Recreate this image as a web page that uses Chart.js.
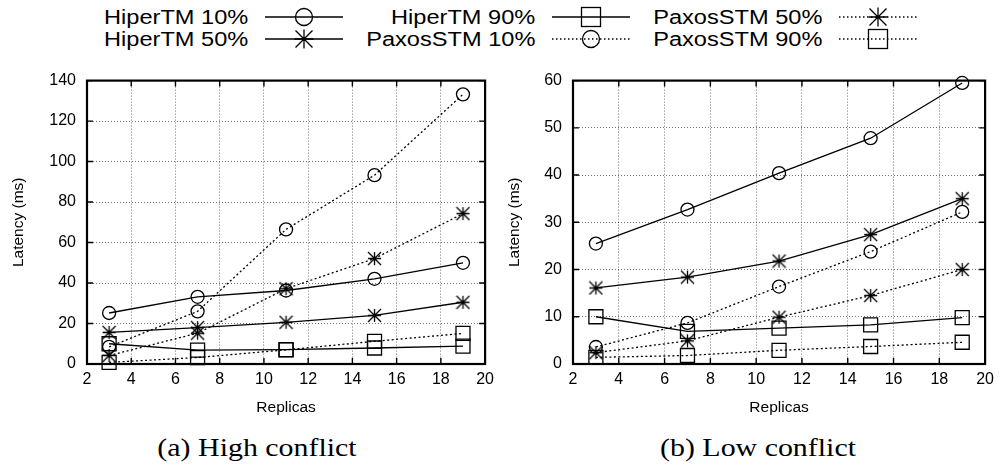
<!DOCTYPE html>
<html>
<head>
<meta charset="utf-8">
<script src="https://cdn.jsdelivr.net/npm/chart.js@4"></script>
<style>
  body { margin:0; background:#fff; width:1000px; height:468px; position:relative; overflow:hidden; font-family:'Liberation Sans', Arial, sans-serif; color:#000; }
  canvas { position:absolute; top:60px; }
  #cv-high { left:0; }
  #cv-low  { left:500px; }
  .lg-lbl { position:absolute; font-size:20px; line-height:22px; white-space:nowrap; transform:scaleX(1.18); transform-origin:right center; }
  .lg-smp { position:absolute; }
  .cap { position:absolute; top:433px; font-family:'Liberation Serif', serif; font-size:26px; line-height:30px; white-space:nowrap; transform:translateX(-50%) scaleX(1.15); }
</style>
</head>
<body>
<div id="legend"></div>
<canvas id="cv-high" width="500" height="370"></canvas>
<canvas id="cv-low" width="500" height="370"></canvas>
<div class="cap" style="left:257px">(a) High conflict</div>
<div class="cap" style="left:758px">(b) Low conflict</div>
<script>
// data
const replicas    = [3, 7, 11, 15, 19];
const seriesNames = ['HiperTM 10%', 'HiperTM 50%', 'HiperTM 90%', 'PaxosSTM 10%', 'PaxosSTM 50%', 'PaxosSTM 90%'];
const xTicks      = [2, 4, 6, 8, 10, 12, 14, 16, 18, 20];

// (a) high conflict
const highHiper10  = [25.2, 33.2, 36.3, 42.1, 50.0];
const highHiper50  = [15.6, 18.0, 20.6, 24.0, 30.5];
const highHiper90  = [10.0, 6.9, 7.1, 7.9, 8.8];
const highPaxos10  = [8.5, 26.0, 66.5, 93.3, 133.2];
const highPaxos50  = [4.2, 15.2, 37.2, 52.1, 74.3];
const highPaxos90  = [0.8, 3.2, 7.0, 11.2, 15.1];
const highYTicks   = [0, 20, 40, 60, 80, 100, 120, 140];

// (b) low conflict
const lowHiper10   = [25.5, 32.7, 40.4, 47.8, 59.5];
const lowHiper50   = [16.1, 18.4, 21.8, 27.4, 35.0];
const lowHiper90   = [10.0, 6.9, 7.6, 8.3, 9.8];
const lowPaxos10   = [3.6, 8.7, 16.4, 23.8, 32.2];
const lowPaxos50   = [2.4, 4.9, 9.9, 14.5, 20.0];
const lowPaxos90   = [1.4, 1.8, 2.9, 3.7, 4.6];
const lowYTicks    = [0, 10, 20, 30, 40, 50, 60];

// styles: gnuplot-like marks, solid = HiperTM, dotted = PaxosSTM
const DOT = [2, 2.5];
const marks  = ['circle', 'ast', 'rect', 'circle', 'ast', 'rect'];
const dashes = [[], [], [], DOT, DOT, DOT];

function asteriskImg(h, lw) {
  const c = document.createElement('canvas');
  const s = 2 * h + 2; c.width = c.height = s;
  const g = c.getContext('2d'), m = s / 2;
  g.strokeStyle = '#000'; g.lineWidth = lw; g.beginPath();
  g.moveTo(m - h, m); g.lineTo(m + h, m); g.moveTo(m, m - h); g.lineTo(m, m + h);
  g.moveTo(m - h, m - h); g.lineTo(m + h, m + h); g.moveTo(m - h, m + h); g.lineTo(m + h, m - h);
  g.stroke();
  return c;
}
const AST = asteriskImg(6.5, 1.3);

// axis box with inward ticks on all four sides
const framePlugin = {
  id: 'frame',
  beforeDatasetsDraw(chart) {
    const { ctx, chartArea: a, scales: { x, y } } = chart;
    ctx.save();
    ctx.strokeStyle = '#000'; ctx.lineWidth = 1.4; ctx.beginPath();
    x.ticks.forEach(t => {
      const p = x.getPixelForValue(t.value);
      ctx.moveTo(p, a.bottom); ctx.lineTo(p, a.bottom - 6);
      ctx.moveTo(p, a.top);    ctx.lineTo(p, a.top + 6);
    });
    y.ticks.forEach(t => {
      const p = y.getPixelForValue(t.value);
      ctx.moveTo(a.left, p);  ctx.lineTo(a.left + 6, p);
      ctx.moveTo(a.right, p); ctx.lineTo(a.right - 6, p);
    });
    ctx.stroke();
    ctx.lineWidth = 2.2;
    ctx.strokeRect(a.left, a.top, a.right - a.left, a.bottom - a.top);
    ctx.restore();
  }
};

function buildSets(series) {
  return series.map((vals, i) => ({
    label: seriesNames[i],
    data: replicas.map((r, k) => ({ x: r, y: vals[k] })),
    borderColor: '#000', borderWidth: 1.3,
    borderDash: dashes[i],
    pointStyle: marks[i] === 'ast' ? AST : marks[i],
    pointRadius: marks[i] === 'rect' ? 9.9 : 6.5,
    pointBorderColor: '#000', pointBackgroundColor: 'rgba(0,0,0,0)', pointBorderWidth: 1.3,
    fill: false, tension: 0, clip: false,
  }));
}

function makeChart(id, series, yTicks, yWidth, titlePad) {
  const tickFont  = { family: "'Liberation Sans', Arial, sans-serif", size: 16 };
  const titleFont = { family: "'Liberation Sans', Arial, sans-serif", size: 15.5 };
  const grid = { color: 'rgba(0,0,0,0.55)', lineWidth: 1, drawTicks: false };
  return new Chart(document.getElementById(id), {
    type: 'line',
    data: { datasets: buildSets(series) },
    plugins: [framePlugin],
    options: {
      responsive: false, animation: false, devicePixelRatio: 1,
      layout: { padding: { top: 17, right: id === 'cv-high' ? 11 : 14, left: 0, bottom: 0 } },
      plugins: { legend: { display: false }, tooltip: { enabled: false } },
      scales: {
        x: {
          type: 'linear', min: xTicks[0], max: xTicks[xTicks.length - 1],
          afterBuildTicks: s => { s.ticks = xTicks.map(v => ({ value: v })); },
          afterFit: s => { s.height = 66; },
          ticks: { color: '#000', font: tickFont, padding: 6, maxRotation: 0 },
          grid, border: { display: false, dash: [1, 2] },
          title: { display: true, text: 'Replicas', color: '#000', font: titleFont, padding: { top: 0, bottom: 13 } },
        },
        y: {
          min: yTicks[0], max: yTicks[yTicks.length - 1],
          afterBuildTicks: s => { s.ticks = yTicks.map(v => ({ value: v })); },
          afterFit: s => { s.width = yWidth; },
          ticks: { color: '#000', font: tickFont, padding: 11 },
          grid, border: { display: false, dash: [1, 2] },
          title: { display: true, text: 'Latency (ms)', color: '#000', font: titleFont, padding: { top: titlePad, bottom: 0 } },
        },
      },
    },
  });
}

makeChart('cv-high', [highHiper10, highHiper50, highHiper90, highPaxos10, highPaxos50, highPaxos90], highYTicks, 87, 9);
makeChart('cv-low',  [lowHiper10, lowHiper50, lowHiper90, lowPaxos10, lowPaxos50, lowPaxos90], lowYTicks, 73, 5);

// legend: label right-aligned, then line sample with marker
function sampleSvg(mark, dotted) {
  const dash = dotted ? ' stroke-dasharray="1.5 2.5"' : '';
  let m = '';
  if (mark === 'circle') m = '<circle cx="39" cy="12" r="8.5" fill="none" stroke="#000" stroke-width="1.3"/>';
  if (mark === 'rect')   m = '<rect x="29.5" y="2.5" width="19" height="19" fill="none" stroke="#000" stroke-width="1.3"/>';
  if (mark === 'ast')    m = '<path d="M29.5 12H48.5M39 2.5V21.5M30.5 3.5L47.5 20.5M30.5 20.5L47.5 3.5" stroke="#000" stroke-width="1.3"/>';
  return `<svg width="78" height="24" viewBox="0 0 78 24"><line x1="0" y1="12" x2="78" y2="12" stroke="#000" stroke-width="1.3"${dash}/>${m}</svg>`;
}
const lgCols = [248, 535, 822];
const lgRows = [16.5, 39];
const lgOrder = [0, 2, 4, 1, 3, 5];   // row-major: HiperTM 10, 90, PaxosSTM 50 / HiperTM 50, PaxosSTM 10, 90
document.getElementById('legend').innerHTML = lgOrder.map((si, k) => {
  const xEnd = lgCols[k % 3], yc = lgRows[Math.floor(k / 3)];
  return `<div class="lg-lbl" style="right:${1000 - xEnd}px;top:${yc - 11}px">${seriesNames[si]}</div>` +
         `<div class="lg-smp" style="left:${xEnd + 17}px;top:${yc - 12}px">${sampleSvg(marks[si], si >= 3)}</div>`;
}).join('');
</script>
</body>
</html>
